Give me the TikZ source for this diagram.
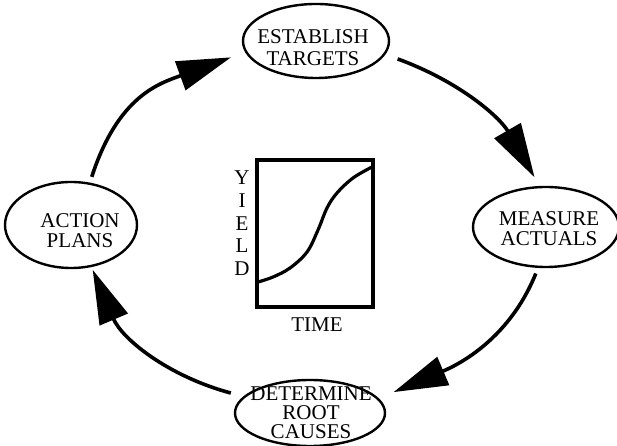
\documentclass[tikz,border=0pt]{standalone}
\usepackage{fontspec}
\setmainfont{Liberation Serif}
\usetikzlibrary{arrows.meta,shapes.geometric}

\tikzset{
  stage/.style={ellipse, draw, line width=2.4pt, inner sep=0pt},
  stagetext/.style={align=center, inner sep=0pt, font=\fontsize{21}{20}\selectfont},
  axislabel/.style={inner sep=0pt, anchor=base, font=\fontsize{21}{20}\selectfont},
  cycle/.style={line width=3.6pt, -{Triangle[length=54pt,width=30pt]}},
  chartframe/.style={draw, line width=3.2pt, inner sep=0pt, minimum width=116pt, minimum height=147pt},
  yieldcurve/.style={line width=3.2pt, line cap=round}
}

\begin{document}
\begin{tikzpicture}[x=1pt,y=1pt]
  \useasboundingbox (0,0) rectangle (617,446);

  % the four stages of the improvement cycle
  \node[stage, minimum width=146pt, minimum height=74pt] (est) at (316,405) {};
  \node[stagetext, font=\fontsize{21}{22}\selectfont] (esttxt) at (313,398.5) {ESTABLISH\\TARGETS};

  \node[stage, minimum width=146pt, minimum height=80pt] (mea) at (546,219) {};
  \node[stagetext] (meatxt) at (549,217.5) {MEASURE\\ACTUALS};

  \node[stage, minimum width=150pt, minimum height=66pt] (det) at (310,33) {};
  \node[stagetext, font=\fontsize{21}{19}\selectfont] (dettxt) at (311,33.5) {DETERMINE\\ROOT\\CAUSES};

  \node[stage, minimum width=132pt, minimum height=86pt] (act) at (71,221) {};
  \node[stagetext] (acttxt) at (80,215.5) {ACTION\\PLANS};

  % curved arrows linking the stages
  \draw[cycle, shorten <=13pt, shorten >=10pt] (est.-11) to[out=-20,in=120] (mea.99);
  \draw[cycle, shorten <=6pt, shorten >=16pt] (mea.-101) to[out=-112,in=23] (det.12);
  \draw[cycle, shorten <=13pt, shorten >=3pt] (det.166) to[out=165,in=-67] (act.-64);
  \draw[cycle, shorten <=6pt, shorten >=15pt, looseness=1.15] (act.66) to[out=72,in=200] (est.189.5);

  % yield-over-time chart in the middle
  \node[chartframe] (chart) at (315,212.5) {};
  \draw[yieldcurve] plot[smooth, tension=0.6] coordinates
    {(258,164) (273,169) (290,178) (307,194) (318,216) (327,238) (337,253) (353,268) (372,279)};

  \node[axislabel] (ly) at (242,261) {Y};
  \node[axislabel] (li) at (242,238) {I};
  \node[axislabel] (le) at (242,215) {E};
  \node[axislabel] (ll) at (242,193) {L};
  \node[axislabel] (ld) at (242,170) {D};
  \node[axislabel] (time) at (317,114) {TIME};
\end{tikzpicture}
\end{document}
